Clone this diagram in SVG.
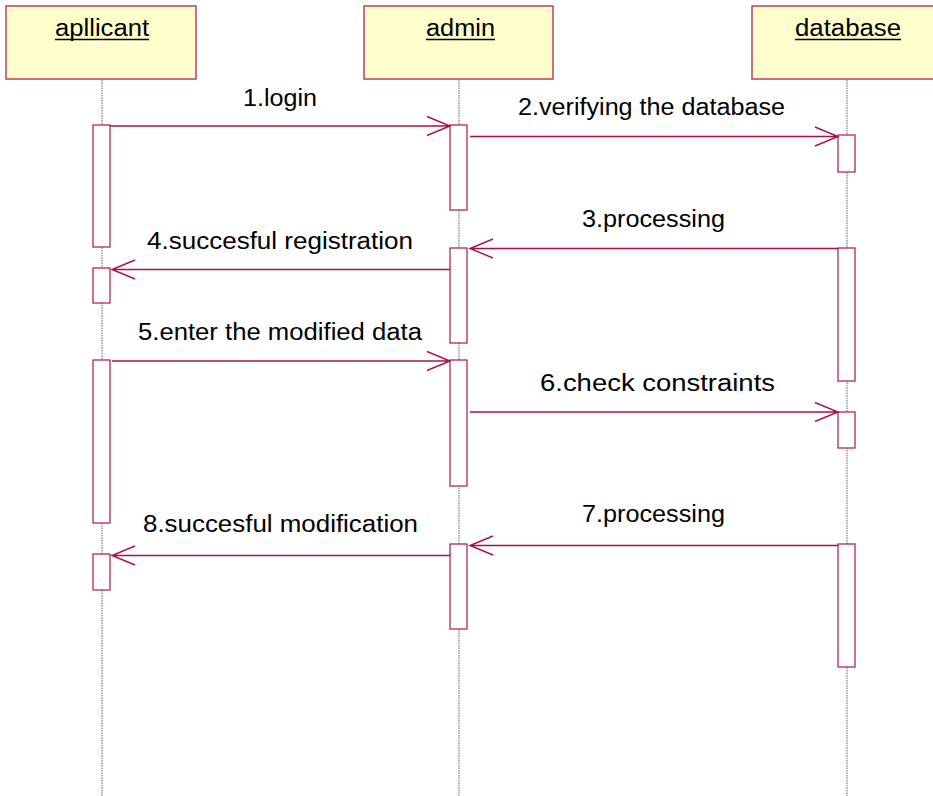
<svg xmlns="http://www.w3.org/2000/svg" width="933" height="796" viewBox="0 0 933 796">
<style>
.head{fill:#FFFFCC;stroke:#B8406A;stroke-width:1.5}
.life{stroke:#606060;stroke-width:1;stroke-dasharray:1.5,1}
.act{fill:#FFFFFF;stroke:#B0285A;stroke-width:1.3}
.msg{stroke:#A8124A;stroke-width:1.4;fill:none}
.lbl{font-family:"Liberation Sans",Arial,sans-serif;font-size:23px;fill:#000}
.ttl{font-family:"Liberation Sans",Arial,sans-serif;font-size:23px;fill:#000}
.ul{stroke:#000;stroke-width:1.5}
</style>
<rect width="933" height="796" fill="#FFFFFF"/>
<g id="applicant">
<rect class="head" x="6" y="6" width="190" height="73"/>
<text class="ttl" x="55" y="36" textLength="94" lengthAdjust="spacingAndGlyphs">apllicant</text>
<line class="ul" x1="55" y1="39.5" x2="149" y2="39.5"/>
<line class="life" x1="102" y1="80" x2="102" y2="796"/>
<rect class="act" x="93" y="125" width="17" height="122"/>
<rect class="act" x="93" y="268" width="17" height="35"/>
<rect class="act" x="93" y="360" width="17" height="163"/>
<rect class="act" x="93" y="554" width="17" height="36"/>
</g>
<g id="admin">
<rect class="head" x="364" y="6" width="189" height="73"/>
<text class="ttl" x="426" y="36" textLength="69" lengthAdjust="spacingAndGlyphs">admin</text>
<line class="ul" x1="426" y1="39.5" x2="495" y2="39.5"/>
<line class="life" x1="459" y1="80" x2="459" y2="796"/>
<rect class="act" x="450" y="125" width="17" height="85"/>
<rect class="act" x="450" y="248" width="17" height="95"/>
<rect class="act" x="450" y="360" width="17" height="126"/>
<rect class="act" x="450" y="544" width="17" height="85"/>
</g>
<g id="database">
<rect class="head" x="752" y="6" width="190" height="73"/>
<text class="ttl" x="795" y="36" textLength="106" lengthAdjust="spacingAndGlyphs">database</text>
<line class="ul" x1="795" y1="39.5" x2="901" y2="39.5"/>
<line class="life" x1="847" y1="80" x2="847" y2="796"/>
<rect class="act" x="838" y="135" width="17" height="37"/>
<rect class="act" x="838" y="248" width="17" height="133"/>
<rect class="act" x="838" y="412" width="17" height="36"/>
<rect class="act" x="838" y="544" width="17" height="123"/>
</g>
<g id="connectors">
<path class="msg" d="M110,126 H450 M427,116.5 L450,126 L427,135.5"/>
<path class="msg" d="M470,136.5 H838 M815,127 L838,136.5 L815,146"/>
<path class="msg" d="M838,248.5 H470 M493,239 L470,248.5 L493,258"/>
<path class="msg" d="M450,269.5 H112 M135,260 L112,269.5 L135,279"/>
<path class="msg" d="M112,361 H450 M427,351.5 L450,361 L427,370.5"/>
<path class="msg" d="M470,412 H838 M815,402.5 L838,412 L815,421.5"/>
<path class="msg" d="M838,545.5 H470 M493,536 L470,545.5 L493,555"/>
<path class="msg" d="M450,555.5 H112 M135,546 L112,555.5 L135,565"/>
</g>
<g id="labels">
<text class="lbl" x="243" y="106" textLength="74" lengthAdjust="spacingAndGlyphs">1.login</text>
<text class="lbl" x="518" y="115" textLength="267" lengthAdjust="spacingAndGlyphs">2.verifying the database</text>
<text class="lbl" x="582" y="227" textLength="143" lengthAdjust="spacingAndGlyphs">3.processing</text>
<text class="lbl" x="147" y="249" textLength="266" lengthAdjust="spacingAndGlyphs">4.succesful registration</text>
<text class="lbl" x="138" y="340" textLength="284" lengthAdjust="spacingAndGlyphs">5.enter the modified data</text>
<text class="lbl" x="540" y="391" textLength="235" lengthAdjust="spacingAndGlyphs">6.check constraints</text>
<text class="lbl" x="582" y="522" textLength="143" lengthAdjust="spacingAndGlyphs">7.processing</text>
<text class="lbl" x="143" y="532" textLength="275" lengthAdjust="spacingAndGlyphs">8.succesful modification</text>
</g>
</svg>
